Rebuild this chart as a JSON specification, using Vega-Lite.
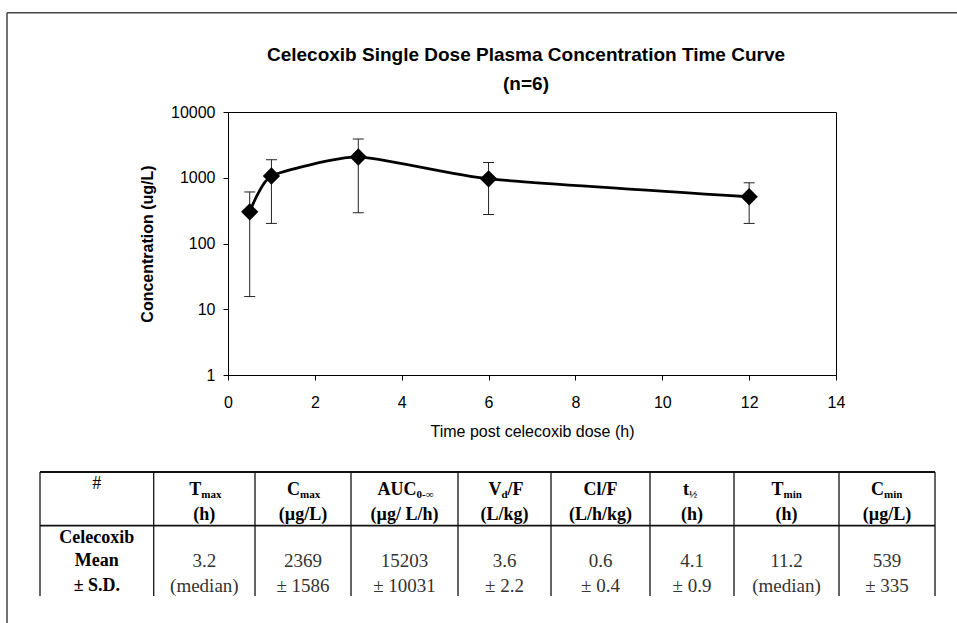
{
  "$schema": "https://vega.github.io/schema/vega-lite/v6.json",
  "autosize": {"type": "none"},
  "padding": {"left": 228, "top": 112, "right": 121, "bottom": 248},
  "width": 608,
  "height": 263,
  "background": "white",
  "config": {"view": {"stroke": "#000", "strokeWidth": 1}, "font": "Liberation Sans"},
  "title": {
    "text": ["Celecoxib Single Dose Plasma Concentration Time Curve", "(n=6)"],
    "frame": "group", "anchor": "middle", "font": "Liberation Sans", "fontSize": 19,
    "fontWeight": "bold", "lineHeight": 29, "offset": -82, "dx": -6, "color": "#000"
  },
  "datasets": {
    "pk": [
      {"time": 0.5, "conc": 303, "lo": 15.6, "hi": 608},
      {"time": 1, "conc": 1062, "lo": 202, "hi": 1880},
      {"time": 3, "conc": 2070, "lo": 294, "hi": 3880},
      {"time": 6, "conc": 962, "lo": 275, "hi": 1703},
      {"time": 12, "conc": 514, "lo": 202, "hi": 838}
    ],
    "frame": [
      {"fx": 0, "fx2": 1, "fy": 0, "fy2": 0},
      {"fx": 0, "fx2": 0, "fy": 0, "fy2": 1}
    ],
    "hl": [
      {"col": -0.5, "col2": 8.5, "row": -0.75, "row2": -0.75},
      {"col": -0.5, "col2": 8.5, "row": 1.5, "row2": 1.5}
    ],
    "vl": [
      {"col": -0.5, "col2": -0.5, "row": -0.75, "row2": 4.5},
      {"col": 0.5, "col2": 0.5, "row": -0.75, "row2": 4.5},
      {"col": 1.5, "col2": 1.5, "row": -0.75, "row2": 4.5},
      {"col": 2.5, "col2": 2.5, "row": -0.75, "row2": 4.5},
      {"col": 3.5, "col2": 3.5, "row": -0.75, "row2": 4.5},
      {"col": 4.5, "col2": 4.5, "row": -0.75, "row2": 4.5},
      {"col": 5.5, "col2": 5.5, "row": -0.75, "row2": 4.5},
      {"col": 6.5, "col2": 6.5, "row": -0.75, "row2": 4.5},
      {"col": 7.5, "col2": 7.5, "row": -0.75, "row2": 4.5},
      {"col": 8.5, "col2": 8.5, "row": -0.75, "row2": 4.5}
    ],
    "hdr": [
      {"col": 5, "row": 0, "text": "Cl/F"},
      {"col": 1, "row": 1, "text": "(h)"},
      {"col": 2, "row": 1, "text": "(µg/L)"},
      {"col": 3, "row": 1, "text": "(µg/ L/h)"},
      {"col": 4, "row": 1, "text": "(L/kg)"},
      {"col": 5, "row": 1, "text": "(L/h/kg)"},
      {"col": 6, "row": 1, "text": "(h)"},
      {"col": 7, "row": 1, "text": "(h)"},
      {"col": 8, "row": 1, "text": "(µg/L)"},
      {"col": 0, "row": 2, "text": "Celecoxib"},
      {"col": 0, "row": 3, "text": "Mean"},
      {"col": 0, "row": 4, "text": "± S.D."}
    ],
    "hsub": [
      {"col": 1, "row": 0, "pre": "T", "sub": "max"},
      {"col": 2, "row": 0, "pre": "C", "sub": "max"},
      {"col": 4, "row": 0, "pre": "V", "sub": "d"},
      {"col": 6, "row": 0, "pre": "t", "sub": "½"},
      {"col": 7, "row": 0, "pre": "T", "sub": "min"},
      {"col": 8, "row": 0, "pre": "C", "sub": "min"}
    ],
    "hsubAuc": [
      {"col": 3, "row": 0, "pre": "AUC", "sub": "0-∞"}
    ],
    "hpost": [
      {"col": 4, "row": 0, "text": "/F"}
    ],
    "hash": [
      {"col": 0, "row": 0, "text": "#"}
    ],
    "vals": [
      {"col": 1, "row": 3, "text": "3.2"},
      {"col": 2, "row": 3, "text": "2369"},
      {"col": 3, "row": 3, "text": "15203"},
      {"col": 4, "row": 3, "text": "3.6"},
      {"col": 5, "row": 3, "text": "0.6"},
      {"col": 6, "row": 3, "text": "4.1"},
      {"col": 7, "row": 3, "text": "11.2"},
      {"col": 8, "row": 3, "text": "539"},
      {"col": 1, "row": 4, "text": "(median)"},
      {"col": 2, "row": 4, "text": "± 1586"},
      {"col": 3, "row": 4, "text": "± 10031"},
      {"col": 4, "row": 4, "text": "± 2.2"},
      {"col": 5, "row": 4, "text": "± 0.4"},
      {"col": 6, "row": 4, "text": "± 0.9"},
      {"col": 7, "row": 4, "text": "(median)"},
      {"col": 8, "row": 4, "text": "± 335"}
    ]
  },
  "layer": [
    {
      "data": {"name": "pk"},
      "encoding": {
        "x": {
          "field": "time", "type": "quantitative",
          "title": "Time post celecoxib dose (h)",
          "scale": {"domain": [0, 14], "nice": false, "zero": false},
          "axis": {
            "values": [0, 2, 4, 6, 8, 10, 12, 14], "format": "d", "grid": false,
            "labelFont": "Liberation Sans", "labelFontSize": 16, "labelColor": "#000",
            "labelPadding": 14, "labelFlush": false, "labelOverlap": false,
            "tickSize": 5, "tickColor": "#000", "domainColor": "#000",
            "titleFont": "Liberation Sans", "titleFontSize": 16, "titleFontWeight": "normal",
            "titleColor": "#000", "titlePadding": 13
          }
        },
        "y": {
          "field": "conc", "type": "quantitative",
          "title": "Concentration (ug/L)",
          "scale": {"type": "log", "domain": [1, 10000], "nice": false},
          "axis": {
            "values": [1, 10, 100, 1000, 10000], "format": "d", "grid": false,
            "labelFont": "Liberation Sans", "labelFontSize": 16, "labelColor": "#000",
            "labelPadding": 8, "labelFlush": false, "labelOverlap": false,
            "tickSize": 5, "tickColor": "#000", "domainColor": "#000",
            "titleFont": "Liberation Sans", "titleFontSize": 16, "titleFontWeight": "bold",
            "titleColor": "#000", "titlePadding": 15
          }
        }
      },
      "layer": [
        {
          "mark": {"type": "rule", "color": "#222", "strokeWidth": 1},
          "encoding": {
            "y": {"field": "lo", "type": "quantitative", "title": "Concentration (ug/L)"},
            "y2": {"field": "hi"}
          }
        },
        {
          "mark": {"type": "tick", "orient": "horizontal", "size": 11, "thickness": 1, "color": "#222", "opacity": 1},
          "encoding": {"y": {"field": "lo", "type": "quantitative", "title": "Concentration (ug/L)"}}
        },
        {
          "mark": {"type": "tick", "orient": "horizontal", "size": 11, "thickness": 1, "color": "#222", "opacity": 1},
          "encoding": {"y": {"field": "hi", "type": "quantitative", "title": "Concentration (ug/L)"}}
        },
        {
          "mark": {"type": "line", "interpolate": "cardinal", "tension": 0.45, "color": "#000", "strokeWidth": 2.8}
        },
        {
          "mark": {"type": "point", "shape": "diamond", "filled": true, "size": 300, "color": "#000", "opacity": 1}
        }
      ]
    },
    {
      "encoding": {
        "x": {
          "field": "col", "type": "quantitative", "axis": null,
          "scale": {
            "domain": [-0.5, 0.5, 1.5, 2.5, 3.5, 4.5, 5.5, 6.5, 7.5, 8.5],
            "range": [-188, -74.3, 27, 123, 230, 323, 422, 506, 611, 707],
            "nice": false, "zero": false
          }
        },
        "y": {
          "field": "row", "type": "quantitative", "axis": null,
          "scale": {
            "domain": [-0.75, 0, 1, 1.5, 2, 3, 4, 4.5],
            "range": [360, 378, 402.5, 413.6, 425.5, 448.5, 474, 484],
            "nice": false, "zero": false
          }
        }
      },
      "layer": [
        {
          "data": {"name": "hl"},
          "mark": {"type": "rule", "color": "#111", "strokeWidth": 1.8},
          "encoding": {"x2": {"field": "col2"}, "y2": {"field": "row2"}}
        },
        {
          "data": {"name": "vl"},
          "mark": {"type": "rule", "color": "#111", "strokeWidth": 1.3},
          "encoding": {"x2": {"field": "col2"}, "y2": {"field": "row2"}}
        },
        {
          "data": {"name": "hdr"},
          "mark": {"type": "text", "font": "Liberation Serif", "fontSize": 18, "fontWeight": "bold", "color": "#000", "align": "center", "baseline": "middle"},
          "encoding": {"text": {"field": "text"}}
        },
        {
          "data": {"name": "hsub"},
          "mark": {"type": "text", "font": "Liberation Serif", "fontSize": 18, "fontWeight": "bold", "color": "#000", "align": "right", "baseline": "middle", "dx": -3},
          "encoding": {"text": {"field": "pre"}}
        },
        {
          "data": {"name": "hsub"},
          "mark": {"type": "text", "font": "Liberation Serif", "fontSize": 11, "fontWeight": "bold", "color": "#000", "align": "left", "baseline": "middle", "dx": -3, "dy": 5},
          "encoding": {"text": {"field": "sub"}}
        },
        {
          "data": {"name": "hsubAuc"},
          "mark": {"type": "text", "font": "Liberation Serif", "fontSize": 18, "fontWeight": "bold", "color": "#000", "align": "right", "baseline": "middle", "dx": 12},
          "encoding": {"text": {"field": "pre"}}
        },
        {
          "data": {"name": "hsubAuc"},
          "mark": {"type": "text", "font": "Liberation Serif", "fontSize": 11, "fontWeight": "bold", "color": "#000", "align": "left", "baseline": "middle", "dx": 12, "dy": 5},
          "encoding": {"text": {"field": "sub"}}
        },
        {
          "data": {"name": "hpost"},
          "mark": {"type": "text", "font": "Liberation Serif", "fontSize": 18, "fontWeight": "bold", "color": "#000", "align": "left", "baseline": "middle", "dx": 3},
          "encoding": {"text": {"field": "text"}}
        },
        {
          "data": {"name": "hash"},
          "mark": {"type": "text", "font": "Liberation Serif", "fontSize": 18, "color": "#000", "align": "center", "baseline": "middle", "dy": -6},
          "encoding": {"text": {"field": "text"}}
        },
        {
          "data": {"name": "vals"},
          "mark": {"type": "text", "font": "Liberation Serif", "fontSize": 19, "color": "#333", "align": "center", "baseline": "middle"},
          "encoding": {"text": {"field": "text"}}
        }
      ]
    },
    {
      "data": {"name": "frame"},
      "mark": {"type": "rule", "color": "#444", "strokeWidth": 1.5},
      "encoding": {
        "x": {"field": "fx", "type": "quantitative", "axis": null, "scale": {"domain": [0, 1], "range": [-221, 729], "nice": false, "zero": false}},
        "x2": {"field": "fx2"},
        "y": {"field": "fy", "type": "quantitative", "axis": null, "scale": {"domain": [0, 1], "range": [-99.3, 511], "nice": false, "zero": false}},
        "y2": {"field": "fy2"}
      }
    }
  ],
  "resolve": {"scale": {"x": "independent", "y": "independent"}}
}
